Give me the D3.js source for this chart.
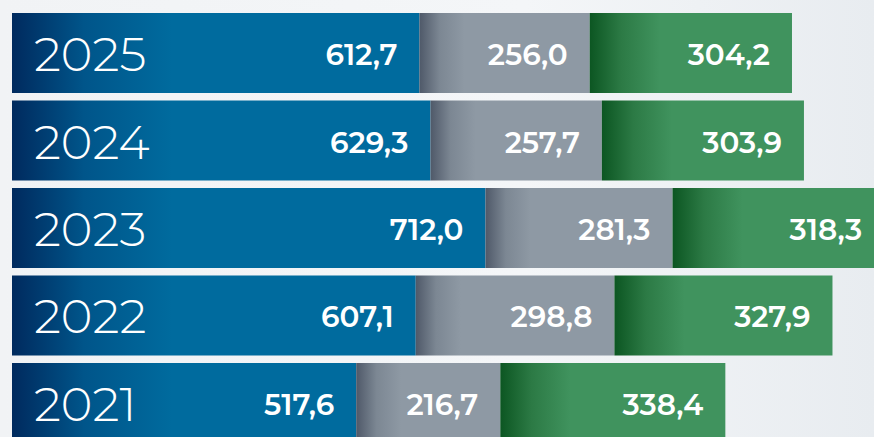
<!DOCTYPE html>
<html lang="en">
<head>
    <meta charset="UTF-8">
    <title>Stacked bars</title>
    <script src="https://cdn.jsdelivr.net/npm/d3@7"></script>
    <style>
        html, body { margin: 0; padding: 0; background: #eef1f4; }
    </style>
</head>
<body>
    <div id="app"></div>
    <script>
        var width = 874;
        var height = 437;

        var years = ["2025", "2024", "2023", "2022", "2021"];
        var blueVals = [612.7, 629.3, 712.0, 607.1, 517.6];
        var grayVals = [256.0, 257.7, 281.3, 298.8, 216.7];
        var greenVals = [304.2, 303.9, 318.3, 327.9, 338.4];

        var keys = ["blue", "gray", "green"];
        // colours: dark start of the ramp, flat end colour, ramp length in px
        var look = {
            blue: { dark: "#002a5e", mid: "#00558a", flat: "#006b9e", ramp: 160 },
            gray: { dark: "#4f5969", mid: "#7c8793", flat: "#8e99a4", ramp: 45 },
            green: { dark: "#0c5622", mid: "#2c7a45", flat: "#40935e", ramp: 70 }
        };

        var rows = years.map(function (y, i) {
            return { year: y, blue: blueVals[i], gray: grayVals[i], green: greenVals[i] };
        });

        var fmt = function (v) { return d3.format(".1f")(v).replace(".", ","); };

        var svg = d3.select("#app")
            .append("svg")
            .attr("width", width)
            .attr("height", height);

        var defs = svg.append("defs");

        // faint background wash
        var bg = defs.append("linearGradient").attr("id", "bg")
            .attr("x1", 0).attr("y1", 0).attr("x2", 1).attr("y2", 0);
        bg.append("stop").attr("offset", "0%").attr("stop-color", "#f1f3f5");
        bg.append("stop").attr("offset", "60%").attr("stop-color", "#f4f6f8");
        bg.append("stop").attr("offset", "100%").attr("stop-color", "#e8ecf0");
        svg.append("rect").attr("width", width).attr("height", height).attr("fill", "url(#bg)");

        var x = d3.scaleLinear()
            .domain([0, 1311.6])
            .range([12, 12 + 1311.6 * 0.665]);

        var y = d3.scaleBand()
            .domain(years)
            .range([13, 443])
            .paddingInner(0.0857);

        var stack = d3.stack().keys(keys)(rows);

        var layer = svg.selectAll("g.layer")
            .data(stack)
            .enter()
            .append("g")
            .attr("class", "layer");

        layer.each(function (s) {
            var c = look[s.key];
            s.forEach(function (d, i) {
                var x0 = x(d[0]);
                var id = "g-" + s.key + "-" + i;
                var lg = defs.append("linearGradient").attr("id", id)
                    .attr("gradientUnits", "userSpaceOnUse")
                    .attr("x1", x0).attr("y1", 0)
                    .attr("x2", x0 + c.ramp).attr("y2", 0);
                lg.append("stop").attr("offset", "0%").attr("stop-color", c.dark);
                lg.append("stop").attr("offset", "45%").attr("stop-color", c.mid);
                lg.append("stop").attr("offset", "100%").attr("stop-color", c.flat);
            });
        });

        layer.selectAll("rect")
            .data(function (s) { return s.map(function (d, i) { return { key: s.key, d: d, i: i }; }); })
            .enter()
            .append("rect")
            .attr("x", function (p) { return x(p.d[0]); })
            .attr("y", function (p) { return y(p.d.data.year); })
            .attr("width", function (p) { return x(p.d[1]) - x(p.d[0]); })
            .attr("height", y.bandwidth())
            .attr("fill", function (p) { return "url(#g-" + p.key + "-" + p.i + ")"; });

        layer.selectAll("text")
            .data(function (s) { return s.map(function (d) { return { key: s.key, d: d }; }); })
            .enter()
            .append("text")
            .attr("x", function (p) { return x(p.d[1]) - 22; })
            .attr("y", function (p) { return y(p.d.data.year) + y.bandwidth() / 2 + 1; })
            .attr("text-anchor", "end")
            .attr("dominant-baseline", "central")
            .style("font-family", "Montserrat, Inter, 'Open Sans', sans-serif")
            .style("font-weight", 600)
            .style("font-size", "29.5px")
            .attr("fill", "#fff")
            .text(function (p) { return fmt(p.d.data[p.key]); });

        svg.selectAll("text.year")
            .data(years)
            .enter()
            .append("text")
            .attr("class", "year")
            .attr("x", 34)
            .attr("y", function (d) { return y(d) + y.bandwidth() / 2 + 1; })
            .attr("dominant-baseline", "central")
            .style("font-family", "Montserrat, Inter, Lato, sans-serif")
            .style("font-weight", 300)
            .style("font-size", "48px")
            .attr("fill", "#fff")
            .text(function (d) { return d; });
    </script>
</body>
</html>
